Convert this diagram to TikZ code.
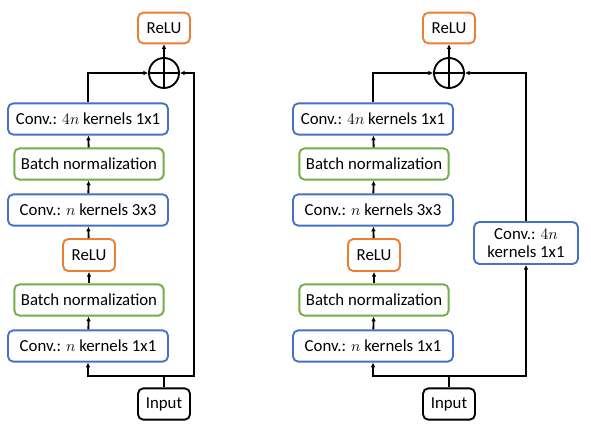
\documentclass[tikz,border=0pt]{standalone}
\usepackage{fontspec}
\setmainfont{Carlito}
\usetikzlibrary{arrows.meta}
\definecolor{convblue}{RGB}{68,114,196}
\definecolor{bngreen}{RGB}{112,173,71}
\definecolor{reluorange}{RGB}{237,125,49}
\tikzset{
  blk/.style={draw,line width=1.4pt,rounded corners=4pt,inner sep=0pt,font=\fontsize{12.6}{14}\selectfont,fill=white,align=center},
  conv/.style={blk,draw=convblue,minimum width=120pt,minimum height=23.5pt},
  bn/.style={blk,draw=bngreen,minimum width=112pt,minimum height=23.5pt},
  relu/.style={blk,draw=reluorange,minimum width=39pt,minimum height=23pt},
  inp/.style={blk,draw=black,minimum width=39pt,minimum height=23.5pt},
  addop/.style={draw,circle,line width=1.4pt,minimum size=22.5pt,inner sep=0pt},
  flow/.style={line width=1.4pt,-{Latex[length=3.5pt,width=3.5pt]}},
  wire/.style={line width=1.4pt}
}
\begin{document}
\begin{tikzpicture}[x=0.75pt,y=-0.75pt]
\useasboundingbox (0,0) rectangle (591,432);
\foreach \dx/\t in {0/L,285/R}{
  \node[relu] (out\t) at (164+\dx,28) {ReLU};
  \node[addop] (add\t) at (164+\dx,73) {};
  \draw[line width=1.4pt] (add\t.north) -- (add\t.south) (add\t.west) -- (add\t.east);
  \node[conv] (cd\t) at (88+\dx,119) {Conv.: $4n$ kernels 1x1};
  \node[bn] (bb\t) at (89+\dx,164) {Batch normalization};
  \node[conv] (cm\t) at (88+\dx,210) {Conv.: $n$ kernels 3x3};
  \node[relu,minimum height=24pt] (ra\t) at (89+\dx,255) {ReLU};
  \node[bn] (ba\t) at (89+\dx,300) {Batch normalization};
  \node[conv] (ca\t) at (88+\dx,346) {Conv.: $n$ kernels 1x1};
  \node[inp] (in\t) at (164+\dx,404) {Input};
  \coordinate (sp\t) at (164+\dx,376);
  \draw[wire] (in\t) -- (sp\t);
  \draw[flow] (sp\t) -| (ca\t);
  \draw[flow] (ca\t) -- (ba\t);
  \draw[flow] (ba\t) -- (ra\t);
  \draw[flow] (ra\t) -- (cm\t);
  \draw[flow] (cm\t) -- (bb\t);
  \draw[flow] (bb\t) -- (cd\t);
  \draw[flow] (cd\t) |- (add\t);
  \draw[flow] (add\t) -- (out\t);
}
\node[conv,minimum width=78pt,minimum height=31.5pt] (sc) at (526,243) {Conv.: $4n$\\kernels 1x1};
\coordinate (cnL) at (194,376);
\draw[flow] (spL) -- (cnL) |- (addL);
\draw[flow] (spR) -| (sc);
\draw[flow] (sc) |- (addR);
\end{tikzpicture}
\end{document}
